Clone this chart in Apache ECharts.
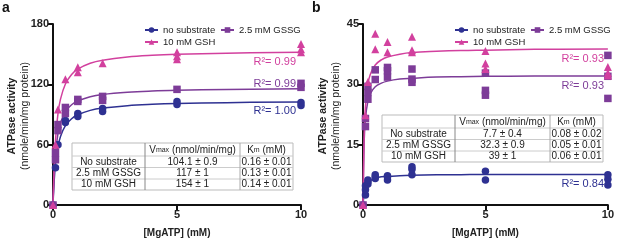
<!DOCTYPE html>
<html>
<head>
<meta charset="utf-8">
<script src="https://cdn.jsdelivr.net/npm/echarts@6/dist/echarts.min.js"></script>
<style>
  html, body { margin: 0; padding: 0; background: #fff; }
  #chart { width: 617px; height: 243px; }
</style>
</head>
<body>
<div id="chart"></div>
<script>
  // measured points [MgATP mM, activity]
  const aNoSub = [[0,0],[0.1,37],[0.2,60],[0.5,82],[0.5,84],[1,88],[1,91],[2,93],[2,96],[5,100],[5,103],[10,99],[10,102]]
  const aGSSG = [[0,0],[0.1,45],[0.1,52],[0.2,74],[0.2,80],[0.5,91],[0.5,97],[1,103],[1,105],[2,104],[2,108],[5,115],[10,117],[10,121]]
  const aGSH = [[0,0],[0.1,60],[0.2,95],[0.5,125],[1,132],[1,137],[2,141],[5,145],[5,148],[5,152],[10,152],[10,155],[10,160]]

  const bNoSub = [[0,0],[0.1,2.5],[0.1,3.8],[0.1,4.8],[0.2,5.2],[0.2,5.8],[0.2,6.2],[0.5,6.6],[0.5,7.0],[0.5,7.5],[1,6.2],[1,7.0],[1,7.3],[2,7.5],[2,8.9],[2,9.5],[5,6.2],[5,8.4],[10,5.0],[10,6.4],[10,7.5]]
  const bGSSG = [[0,0],[0.1,19.5],[0.1,21.5],[0.2,26.3],[0.2,28],[0.2,29.5],[0.5,31.2],[0.5,33.6],[1,31.8],[1,33.4],[1,34.2],[2,30.5],[2,31.3],[2,33.8],[5,27.3],[5,28.5],[5,32.8],[10,26.5],[10,32],[10,37.2]]
  const bGSH = [[0,0],[0.1,22.3],[0.2,30.6],[0.5,38.7],[0.5,42.6],[1,38],[1,40.5],[2,38],[2,38.5],[2,41.8],[5,33.8],[5,35.2],[5,38.3],[10,32.2],[10,32.8],[10,34.3]]

  // fitted curves
  const curveX = [0,0.05,0.1,0.2,0.3,0.5,0.75,1,1.5,2,3,4,5,7,10]
  const aFitNoSub = [0,24.8,40.0,57.8,67.9,78.9,85.8,89.7,94.1,96.4,98.8,100.1,100.9,101.8,102.5]
  const aFitGSSG = [0,32.5,50.9,70.9,81.6,92.9,99.7,103.5,107.7,109.9,112.1,113.3,114.0,114.9,115.5]
  const aFitGSH = [0,40.5,64.2,90.6,105.0,120.3,129.8,135.1,140.9,143.9,147.1,148.8,149.8,151.0,151.9]
  const bFitNoSub = [0,3.0,4.3,5.5,6.1,6.6,7.0,7.1,7.3,7.4,7.5,7.55,7.6,7.6,7.6]
  const bFitGSSG = [0,16.2,21.5,25.8,27.7,29.4,30.3,30.8,31.3,31.5,31.8,31.9,32.0,32.1,32.1]
  const bFitGSH = [0,17.7,24.4,30.0,32.5,34.8,36.1,36.8,37.5,37.9,38.2,38.4,38.5,38.7,38.8]

  const names = ['no substrate', '2.5 mM GSSG', '10 mM GSH']
  const aR2 = ['R²= 1.00', 'R²= 0.99', 'R²= 0.99']
  const bR2 = ['R²= 0.84', 'R²= 0.93', 'R²= 0.93']
  const aYTicks = [0, 180, 60]  // min, max, interval
  const bYTicks = [0, 45, 15]

  const tableRowNames = ['No substrate', '2.5 mM GSSG', '10 mM GSH']
  const aVmax = ['104.1 ± 0.9', '117 ± 1', '154 ± 1']
  const aKm = ['0.16 ± 0.01', '0.13 ± 0.01', '0.14 ± 0.01']
  const bVmax = ['7.7 ± 0.4', '32.3 ± 0.9', '39 ± 1']
  const bKm = ['0.08 ± 0.02', '0.05 ± 0.01', '0.06 ± 0.01']

  const colors = ['#2e3192', '#7d3c98', '#d2409e']
  const symbols = ['circle', 'rect', 'triangle']
  const FONT = 'Liberation Sans, Arial, sans-serif'

  const chart = echarts.init(document.getElementById('chart'))

  const pair = (xs, ys) => xs.map((x, i) => [x, ys[i]])

  const xAxisCfg = (gi) => ({
    gridIndex: gi, type: 'value', min: 0, max: 10, interval: 5,
    name: '[MgATP] (mM)', nameLocation: 'middle', nameGap: 23,
    nameTextStyle: { fontFamily: FONT, fontSize: 10, fontWeight: 'bold', color: '#222' },
    axisLine: { lineStyle: { color: '#111', width: 2 } },
    axisTick: { length: 5, lineStyle: { color: '#111', width: 2 } },
    axisLabel: { fontFamily: FONT, fontSize: 11, fontWeight: 'bold', color: '#222', margin: 4 },
    splitLine: { show: false }
  })
  const yAxisCfg = (gi, t) => ({
    gridIndex: gi, type: 'value', min: t[0], max: t[1], interval: t[2],
    axisLine: { show: true, lineStyle: { color: '#111', width: 2 } },
    axisTick: { show: true, length: 5, lineStyle: { color: '#111', width: 2 } },
    axisLabel: { fontFamily: FONT, fontSize: 11, fontWeight: 'bold', color: '#222', margin: 4 },
    splitLine: { show: false }
  })

  const series = []
  const addPanel = (gi, pts, fits) => {
    fits.forEach((f, i) => {
      series.push({
        name: names[i], type: 'line', xAxisIndex: gi, yAxisIndex: gi,
        data: pair(curveX, f), smooth: 0.4, showSymbol: false,
        symbol: symbols[i], symbolSize: 7,
        lineStyle: { color: colors[i], width: 1.5 }, itemStyle: { color: colors[i] },
        z: 3, silent: true
      })
    })
    pts.forEach((p, i) => {
      series.push({
        name: names[i] + ' pts' + gi, type: 'scatter', xAxisIndex: gi, yAxisIndex: gi,
        data: p, symbol: symbols[i], symbolSize: i === 2 ? 8 : 7.5,
        itemStyle: { color: colors[i], opacity: 1 }, z: 4
      })
    })
  }
  addPanel(0, [aNoSub, aGSSG, aGSH], [aFitNoSub, aFitGSSG, aFitGSH])
  addPanel(1, [bNoSub, bGSSG, bGSH], [bFitNoSub, bFitGSSG, bFitGSH])

  const legendCfg = (left, top, data) => ({
    left, top, data, itemWidth: 13, itemHeight: 7, itemGap: 4, selectedMode: false,
    textStyle: { fontFamily: FONT, fontSize: 9.5, color: '#222' }
  })

  // table drawn as graphic
  const makeTable = (x0, y0, vmax, km) => {
    const cx = [0, 73, 168, 221]
    const ry = [0, 13, 24.5, 36, 47]
    const els = []
    els.push({ type: 'rect', shape: { x: x0, y: y0, width: cx[3], height: ry[4] },
      style: { fill: '#fff', stroke: '#bbb', lineWidth: 1 }, z: 20 })
    for (let r = 1; r < 4; r++) {
      els.push({ type: 'line', shape: { x1: x0, y1: y0 + ry[r], x2: x0 + cx[3], y2: y0 + ry[r] },
        style: { stroke: '#ccc', lineWidth: 1 }, z: 21 })
    }
    els.push({ type: 'line', shape: { x1: x0 + cx[1], y1: y0, x2: x0 + cx[1], y2: y0 + ry[4] },
      style: { stroke: '#888', lineWidth: 1 }, z: 21 })
    els.push({ type: 'line', shape: { x1: x0 + cx[2], y1: y0, x2: x0 + cx[2], y2: y0 + ry[4] },
      style: { stroke: '#aaa', lineWidth: 1 }, z: 21 })
    const rich = { n: { fontFamily: FONT, fontSize: 10, color: '#222' }, s: { fontFamily: FONT, fontSize: 7, color: '#222' } }
    const txt = (x, y, t) => ({ type: 'text', x, y, z: 22,
      style: { text: t, rich, fontFamily: FONT, fontSize: 10, fill: '#222', align: 'center', verticalAlign: 'middle' } })
    els.push(txt(x0 + (cx[1] + cx[2]) / 2, y0 + ry[1] / 2 + 0.5, '{n|V}{s|max}{n| (nmol/min/mg)}'))
    els.push(txt(x0 + (cx[2] + cx[3]) / 2, y0 + ry[1] / 2 + 0.5, '{n|K}{s|m}{n| (mM)}'))
    for (let r = 0; r < 3; r++) {
      const yc = y0 + (ry[r + 1] + ry[r + 2]) / 2
      els.push(txt(x0 + cx[1] / 2, yc, '{n|' + tableRowNames[r] + '}'))
      els.push(txt(x0 + (cx[1] + cx[2]) / 2, yc, '{n|' + vmax[r] + '}'))
      els.push(txt(x0 + (cx[2] + cx[3]) / 2, yc, '{n|' + km[r] + '}'))
    }
    return els
  }

  const r2Text = (x, y, t, c) => ({ type: 'text', x, y, z: 10,
    style: { text: t, fontFamily: FONT, fontSize: 11, fill: c, align: 'right', verticalAlign: 'middle' } })
  const yTitle = (x, bold, t) => ({ type: 'text', x, y: 116, rotation: Math.PI / 2, z: 10,
    style: { text: t, fontFamily: FONT, fontSize: 10.5, fontWeight: bold ? 'bold' : 'normal', fill: '#222', align: 'center', verticalAlign: 'middle' } })
  const panelLabel = (x, t) => ({ type: 'text', x, y: 1, z: 10,
    style: { text: t, fontFamily: FONT, fontSize: 14, fontWeight: 'bold', fill: '#111' } })

  const graphic = [
    panelLabel(2, 'a'), panelLabel(312, 'b'),
    yTitle(12, true, 'ATPase activity'), yTitle(25, false, '(nmole/min/mg protein)'),
    yTitle(323, true, 'ATPase activity'), yTitle(336, false, '(nmole/min/mg protein)'),
    r2Text(296, 111, aR2[0], colors[0]), r2Text(296, 84, aR2[1], colors[1]), r2Text(296, 62, aR2[2], colors[2]),
    r2Text(604, 184, bR2[0], colors[0]), r2Text(604, 86, bR2[1], colors[1]), r2Text(604, 59, bR2[2], colors[2]),
    ...makeTable(72, 143, aVmax, aKm),
    ...makeTable(382, 115, bVmax, bKm)
  ]

  const option = {
    backgroundColor: '#fff',
    animation: false,
    grid: [
      { left: 53, top: 24, width: 248, height: 185 },
      { left: 363, top: 24, width: 248, height: 185 }
    ],
    xAxis: [xAxisCfg(0), xAxisCfg(1)],
    yAxis: [yAxisCfg(0, aYTicks), yAxisCfg(1, bYTicks)],
    legend: [
      legendCfg(139, 20, [names[0]]), legendCfg(215, 20, [names[1]]), legendCfg(139, 32, [names[2]]),
      legendCfg(449, 20, [names[0]]), legendCfg(525, 20, [names[1]]), legendCfg(449, 32, [names[2]])
    ],
    graphic,
    series
  }
  chart.setOption(option)
</script>
</body>
</html>
